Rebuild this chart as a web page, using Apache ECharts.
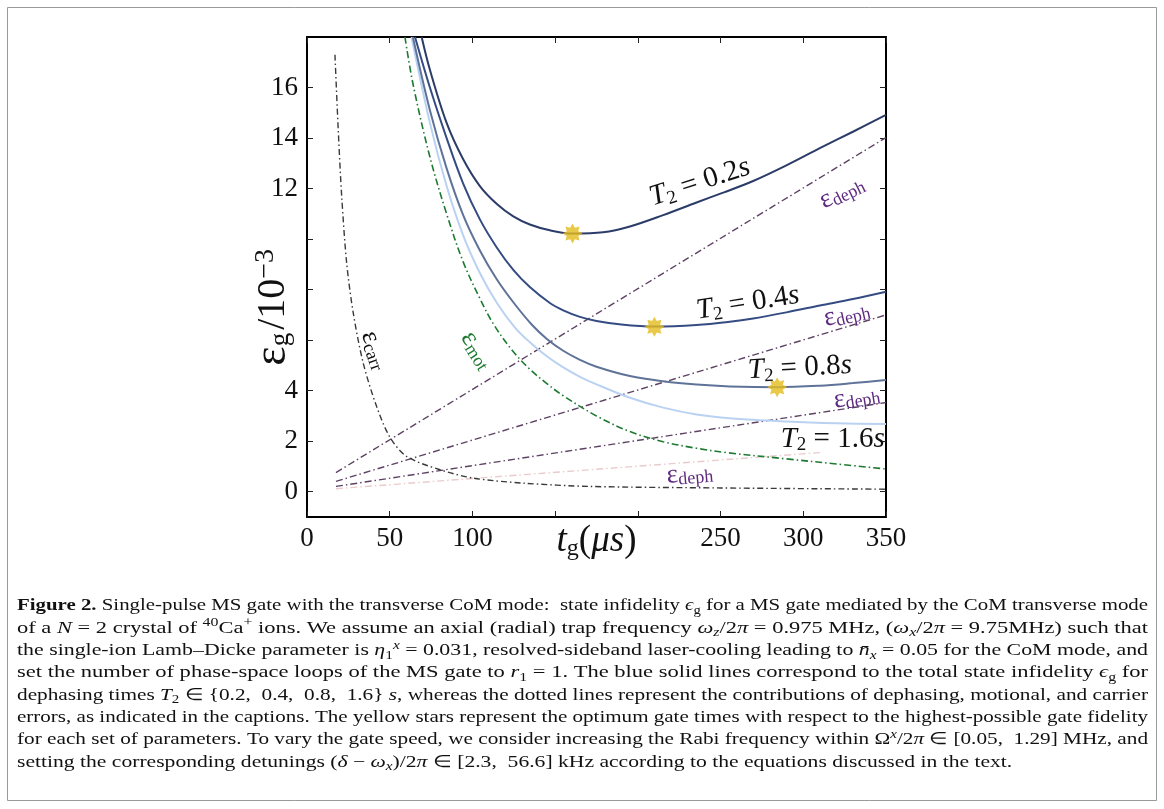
<!DOCTYPE html>
<html><head><meta charset="utf-8">
<script src="https://cdn.jsdelivr.net/npm/echarts@6/dist/echarts.min.js"></script>
<style>html,body{margin:0;padding:0;background:#fff}#c{width:1164px;height:809px}</style>
</head><body><div id="c"></div>
<script>
// ---------- data (t_g in µs, epsilon in 1e-3) ----------
const xTickValues = [0, 50, 100, 150, 200, 250, 300, 350];
const xTickLabels = ['0', '50', '100', '', '', '250', '300', '350'];
const yTickValues = [0, 2, 4, 6, 8, 10, 12, 14, 16];
const yTickLabelValues = [0, 2, 4, 12, 14, 16];

const totalT02 = [[69.3,18.0],[74.3,16.7],[84.4,14.6],[94.5,13.15],[104.5,12.1],[114.6,11.4],[124.7,10.9],[134.7,10.58],[146.8,10.35],[160.5,10.22],[179,10.27],[195.2,10.5],[215.3,10.95],[235.5,11.45],[252,11.85],[269.7,12.3],[289.8,12.92],[310,13.6],[330,14.25],[350,14.92]];
const totalT04 = [[65.3,18.0],[74.3,16.0],[84.4,14.0],[94.4,12.2],[104.5,10.78],[114.6,9.68],[124.7,8.78],[134.7,8.1],[146.8,7.47],[154.9,7.18],[165,6.92],[175,6.76],[190,6.62],[210,6.54],[235.5,6.6],[255.6,6.73],[269.7,6.86],[289.8,7.1],[310,7.37],[330,7.63],[350,7.92]];
const totalT08 = [[64,18.0],[74.3,15.1],[84.4,12.8],[94.4,10.95],[104.5,9.55],[114.6,8.42],[124.7,7.5],[135.8,6.62],[145,6.05],[154.9,5.58],[165,5.22],[175,4.95],[195.2,4.58],[215.3,4.37],[235.5,4.24],[255.6,4.17],[284.2,4.14],[310,4.2],[330,4.3],[350,4.42]];
const totalT16 = [[63.2,18.0],[74.3,14.6],[84.4,12.1],[94.4,10.15],[104.5,8.66],[115,7.45],[125.7,6.5],[134.7,5.92],[145,5.36],[154.9,4.92],[165,4.55],[175,4.25],[195.2,3.72],[215.3,3.33],[235.5,3.06],[255.6,2.91],[289.8,2.78],[320,2.71],[350,2.68]];
const epsMot = [[59.2,18.0],[64.2,16.1],[74.3,13.25],[84.4,11.0],[94.4,9.1],[104.5,7.65],[112.6,6.65],[124,5.6],[134.7,4.85],[145,4.28],[154.9,3.8],[175,3.0],[195.2,2.38],[215.3,1.98],[235.5,1.72],[253.6,1.55],[289.8,1.3],[320,1.1],[350,0.9]];
const epsCarr = [[16.9,17.3],[18.9,14.3],[21,11.67],[24,9.04],[28,7.06],[34,5.09],[42.1,3.37],[50.2,2.15],[60.2,1.4],[80.4,0.87],[100.5,0.54],[130.7,0.34],[171,0.21],[250,0.15],[350,0.1]];
const dephT02 = [[17.5,0.76],[350,14.02]];
const dephT04 = [[17.5,0.41],[350,7.0]];
const dephT08 = [[17.5,0.21],[350,3.53]];
const dephT16 = [[17.5,0.12],[310,1.55]];
const optimumStars = [[160.5,10.22],[210,6.53],[284.2,4.14]];

// annotation labels (data coordinates)
const t2Labels = [
  {v:'0.2', t:237.5, e:12.25, rot:18},
  {v:'0.4', t:266.5, e:7.47, rot:9},
  {v:'0.8', t:297.9, e:4.9, rot:3},
  {v:'1.6', t:317.8, e:2.09, rot:0}
];
const dephLabels = [
  {t:323.3, e:11.86, rot:26},
  {t:326.3, e:7.04, rot:13},
  {t:332.3, e:3.75, rot:9},
  {t:231.4, e:0.71, rot:5}
];
const motLabel = {t:102.7, e:5.6, rot:-58};
const carrLabel = {t:41, e:5.6, rot:-70};

const captionLines = [
  [['b','Figure 2.'],['n',' Single-pulse MS gate with the transverse CoM mode:  state infidelity '],['i','ϵ'],['s','g'],['n',' for a MS gate mediated by the CoM transverse mode']],
  [['n','of a '],['i','N'],['n',' = 2 crystal of '],['p','40'],['n','Ca'],['p','+'],['n',' ions. We assume an axial (radial) trap frequency '],['i','ω'],['si','z'],['n','/2'],['i','π'],['n',' = 0.975 MHz, ('],['i','ω'],['si','x'],['n','/2'],['i','π'],['n',' = 9.75MHz) such that']],
  [['n','the single-ion Lamb–Dicke parameter is '],['i','η'],['s','1'],['pi','x'],['n',' = 0.031, resolved-sideband laser-cooling leading to '],['i','n̄'],['si','x'],['n',' = 0.05 for the CoM mode, and']],
  [['n','set the number of phase-space loops of the MS gate to '],['i','r'],['s','1'],['n',' = 1. The blue solid lines correspond to the total state infidelity '],['i','ϵ'],['s','g'],['n',' for']],
  [['n','dephasing times '],['i','T'],['s','2'],['n',' ∈ {0.2,  0.4,  0.8,  1.6} '],['i','s'],['n',', whereas the dotted lines represent the contributions of dephasing, motional, and carrier']],
  [['n','errors, as indicated in the captions. The yellow stars represent the optimum gate times with respect to the highest-possible gate fidelity']],
  [['n','for each set of parameters. To vary the gate speed, we consider increasing the Rabi frequency within Ω'],['pi','x'],['n','/2'],['i','π'],['n',' ∈ [0.05,  1.29] MHz, and']],
  [['n','setting the corresponding detunings ('],['i','δ'],['n',' − '],['i','ω'],['si','x'],['n',')/2'],['i','π'],['n',' ∈ [2.3,  56.6] kHz according to the equations discussed in the text.']]
];

// ---------- chart ----------
const SERIF = '"Liberation Serif","Times New Roman",serif';
const chart = echarts.init(document.getElementById('c'), null, {renderer:'canvas'});

function starPath(){
  let d = '';
  for (let k = 0; k < 16; k++) {
    const a = k * Math.PI / 8 - Math.PI / 2;
    const r = k % 2 === 0 ? 50 : 31;
    d += (k === 0 ? 'M' : 'L') + (50 + r * Math.cos(a)).toFixed(2) + ' ' + (50 + r * Math.sin(a)).toFixed(2) + ' ';
  }
  return 'path://' + d + 'Z';
}

const axisLineStyle = {show:true, onZero:false, lineStyle:{color:'#000', width:2}};
const tickStyle = {show:true, inside:true, length:6, lineStyle:{color:'#222', width:1}};

function lineSeries(data, color, width, type, smooth, z){
  return {type:'line', data, showSymbol:false, smooth: smooth, z: z,
    lineStyle:{color, width, type}, emphasis:{disabled:true}, silent:true};
}

const option = {
  animation:false,
  backgroundColor:'#fff',
  grid:{left:307, right:278, top:37, bottom:292, containLabel:false},
  xAxis:[
    {type:'value', min:0, max:350, interval:50, position:'bottom',
     axisLine:axisLineStyle, axisTick:tickStyle, splitLine:{show:false},
     axisLabel:{fontFamily:SERIF, fontSize:27, color:'#111', margin:8,
       formatter:(v)=>{const i=xTickValues.indexOf(v); return i>=0?xTickLabels[i]:'';}}},
    {type:'value', min:0, max:350, interval:50, position:'top',
     axisLine:axisLineStyle, axisTick:tickStyle, axisLabel:{show:false}, splitLine:{show:false}}
  ],
  yAxis:[
    {type:'value', min:-1, max:18, position:'left',
     axisLine:axisLineStyle, axisTick:Object.assign({}, tickStyle, {customValues:yTickValues}),
     splitLine:{show:false},
     axisLabel:{customValues:yTickLabelValues, fontFamily:SERIF, fontSize:27, color:'#111', margin:9}},
    {type:'value', min:-1, max:18, position:'right',
     axisLine:axisLineStyle, axisTick:Object.assign({}, tickStyle, {customValues:yTickValues}),
     splitLine:{show:false}, axisLabel:{show:false}}
  ],
  series:[
    lineSeries(dephT16, '#eacbcd', 1.4, [7,3,1.5,3], false, 2),
    lineSeries(dephT08, '#5d4263', 1.4, [7,3,1.5,3], false, 2),
    lineSeries(dephT04, '#5d4263', 1.4, [7,3,1.5,3], false, 2),
    lineSeries(dephT02, '#5d4263', 1.4, [7,3,1.5,3], false, 2),
    lineSeries(epsCarr, '#3a3a3a', 1.4, [6,3,1.5,3], 0.3, 2),
    lineSeries(epsMot, '#1d7a32', 1.6, [7,3,1.5,3], 0.35, 2),
    lineSeries(totalT16, '#bad2f2', 2, 'solid', 0.35, 3),
    lineSeries(totalT08, '#5f7399', 2, 'solid', 0.35, 3),
    lineSeries(totalT04, '#354c82', 2, 'solid', 0.35, 3),
    lineSeries(totalT02, '#2c3c68', 2, 'solid', 0.35, 3),
    {type:'scatter', data:optimumStars, symbol:starPath(), symbolSize:20, z:6, silent:true,
     itemStyle:{color:'#e3bb1d'}}
  ]
};
chart.setOption(option);

// ---------- annotations & caption ----------
function px(t, e){
  return [chart.convertToPixel({xAxisIndex:0}, t), chart.convertToPixel({yAxisIndex:0}, e)];
}
const deg = Math.PI / 180;
const graphics = [];

// outer frame
graphics.push({type:'rect', shape:{x:7.5, y:7.5, width:1149, height:793}, style:{fill:null, stroke:'#9a9a9a', lineWidth:1}, z:0, silent:true});

function richText(x, y, rot, text, rich, color, size){
  return {type:'text', x, y, rotation:rot, z:20, silent:true,
    style:{text, rich, fill:color, fontFamily:SERIF, fontSize:size,
      align:'center', verticalAlign:'middle', textAlign:'center', textVerticalAlign:'middle'}};
}

// T2 labels
t2Labels.forEach(l => {
  const p = px(l.t, l.e);
  graphics.push(richText(p[0], p[1], l.rot * deg, '{i|T}{s|2}{n| = ' + l.v + '}{i|s}', {
    i:{fontFamily:SERIF, fontStyle:'italic', fontSize:29, fill:'#111', color:'#111', lineHeight:32},
    n:{fontFamily:SERIF, fontSize:29, fill:'#111', color:'#111', lineHeight:32},
    s:{fontFamily:SERIF, fontSize:19, fill:'#111', color:'#111', verticalAlign:'bottom', lineHeight:20}
  }, '#111', 29));
});
// eps_deph labels
const purple = '#5e2a80';
dephLabels.forEach(l => {
  const p = px(l.t, l.e);
  graphics.push(richText(p[0], p[1], l.rot * deg, '{e|ε}{s|deph}', {
    e:{fontFamily:SERIF, fontSize:27, fill:purple, color:purple, lineHeight:28},
    s:{fontFamily:SERIF, fontSize:18, fill:purple, color:purple, verticalAlign:'bottom', lineHeight:20}
  }, purple, 27));
});
// eps_mot
(function(){
  const p = px(motLabel.t, motLabel.e); const c = '#1d7a32';
  graphics.push(richText(p[0], p[1], motLabel.rot * deg, '{e|ε}{s|mot}', {
    e:{fontFamily:SERIF, fontSize:27, fill:c, color:c, lineHeight:28},
    s:{fontFamily:SERIF, fontSize:18, fill:c, color:c, verticalAlign:'bottom', lineHeight:20}
  }, c, 27));
})();
// eps_carr
(function(){
  const p = px(carrLabel.t, carrLabel.e); const c = '#111';
  graphics.push(richText(p[0], p[1], carrLabel.rot * deg, '{e|ε}{s|carr}', {
    e:{fontFamily:SERIF, fontSize:27, fill:c, color:c, lineHeight:28},
    s:{fontFamily:SERIF, fontSize:18, fill:c, color:c, verticalAlign:'bottom', lineHeight:20}
  }, c, 27));
})();
// y axis title
(function(){
  const p = px(0, 7.3);
  graphics.push(richText(p[0] - 34, p[1], Math.PI / 2, '{e|ε}{s|g}{n|/10}{p|−3}', {
    e:{fontFamily:SERIF, fontSize:46, fill:'#111', color:'#111', lineHeight:42},
    s:{fontFamily:SERIF, fontSize:27, fill:'#111', color:'#111', verticalAlign:'bottom', lineHeight:22, padding:[0,3,0,0]},
    n:{fontFamily:SERIF, fontSize:40, fill:'#111', color:'#111', lineHeight:42},
    p:{fontFamily:SERIF, fontSize:28, fill:'#111', color:'#111', verticalAlign:'top', lineHeight:22}
  }, '#111', 40));
})();
// x axis title
(function(){
  const p = px(175, -1);
  graphics.push(richText(p[0], p[1] + 24, 0, '{i|t}{s|g}{n|(}{i|μs}{n|)}', {
    i:{fontFamily:SERIF, fontStyle:'italic', fontSize:37, fill:'#111', color:'#111', lineHeight:40},
    n:{fontFamily:SERIF, fontSize:37, fill:'#111', color:'#111', lineHeight:40},
    s:{fontFamily:SERIF, fontSize:24, fill:'#111', color:'#111', verticalAlign:'bottom', lineHeight:26}
  }, '#111', 37));
})();

// caption
const capSize = 17;
const capStyles = {
  n:{fontSize:capSize, lineHeight:22},
  b:{fontSize:capSize, fontWeight:'bold', lineHeight:22},
  i:{fontSize:capSize, fontStyle:'italic', lineHeight:22},
  s:{fontSize:12, verticalAlign:'bottom', lineHeight:12},
  si:{fontSize:12, fontStyle:'italic', verticalAlign:'bottom', lineHeight:12},
  p:{fontSize:12, verticalAlign:'top', lineHeight:12},
  pi:{fontSize:12, fontStyle:'italic', verticalAlign:'top', lineHeight:12}
};
const mctx = document.createElement('canvas').getContext('2d');
function segWidth(seg){
  const st = capStyles[seg[0]];
  mctx.font = (st.fontStyle || 'normal') + ' normal ' + (st.fontWeight || 'normal') + ' ' + st.fontSize + 'px ' + SERIF;
  return mctx.measureText(seg[1]).width;
}
const capLeft = 17, capRight = 1148, capTop = 606, capStep = 22.3;
const widths = captionLines.map(line => line.reduce((a, s) => a + segWidth(s), 0));
const scales = widths.map(w => (capRight - capLeft) / w);
const avgScale = scales.slice(0, -1).reduce((a, b) => a + b, 0) / (scales.length - 1);
const rich = {};
Object.keys(capStyles).forEach(k => {
  rich[k] = Object.assign({fontFamily:SERIF, fill:'#111', color:'#111'}, capStyles[k]);
});
captionLines.forEach((line, idx) => {
  const txt = line.map(s => s[0] === 'n' ? s[1] : '{' + s[0] + '|' + s[1] + '}').join('');
  const sc = idx === captionLines.length - 1 ? avgScale : scales[idx];
  graphics.push({type:'text', x:capLeft, y:capTop + idx * capStep, scaleX:sc, z:20, silent:true,
    style:{text:txt, rich, fill:'#111', fontFamily:SERIF, fontSize:capSize, lineHeight:22,
      align:'left', verticalAlign:'middle', textAlign:'left', textVerticalAlign:'middle'}});
});

chart.setOption({graphic:{elements:graphics}});
</script>
</body></html>
